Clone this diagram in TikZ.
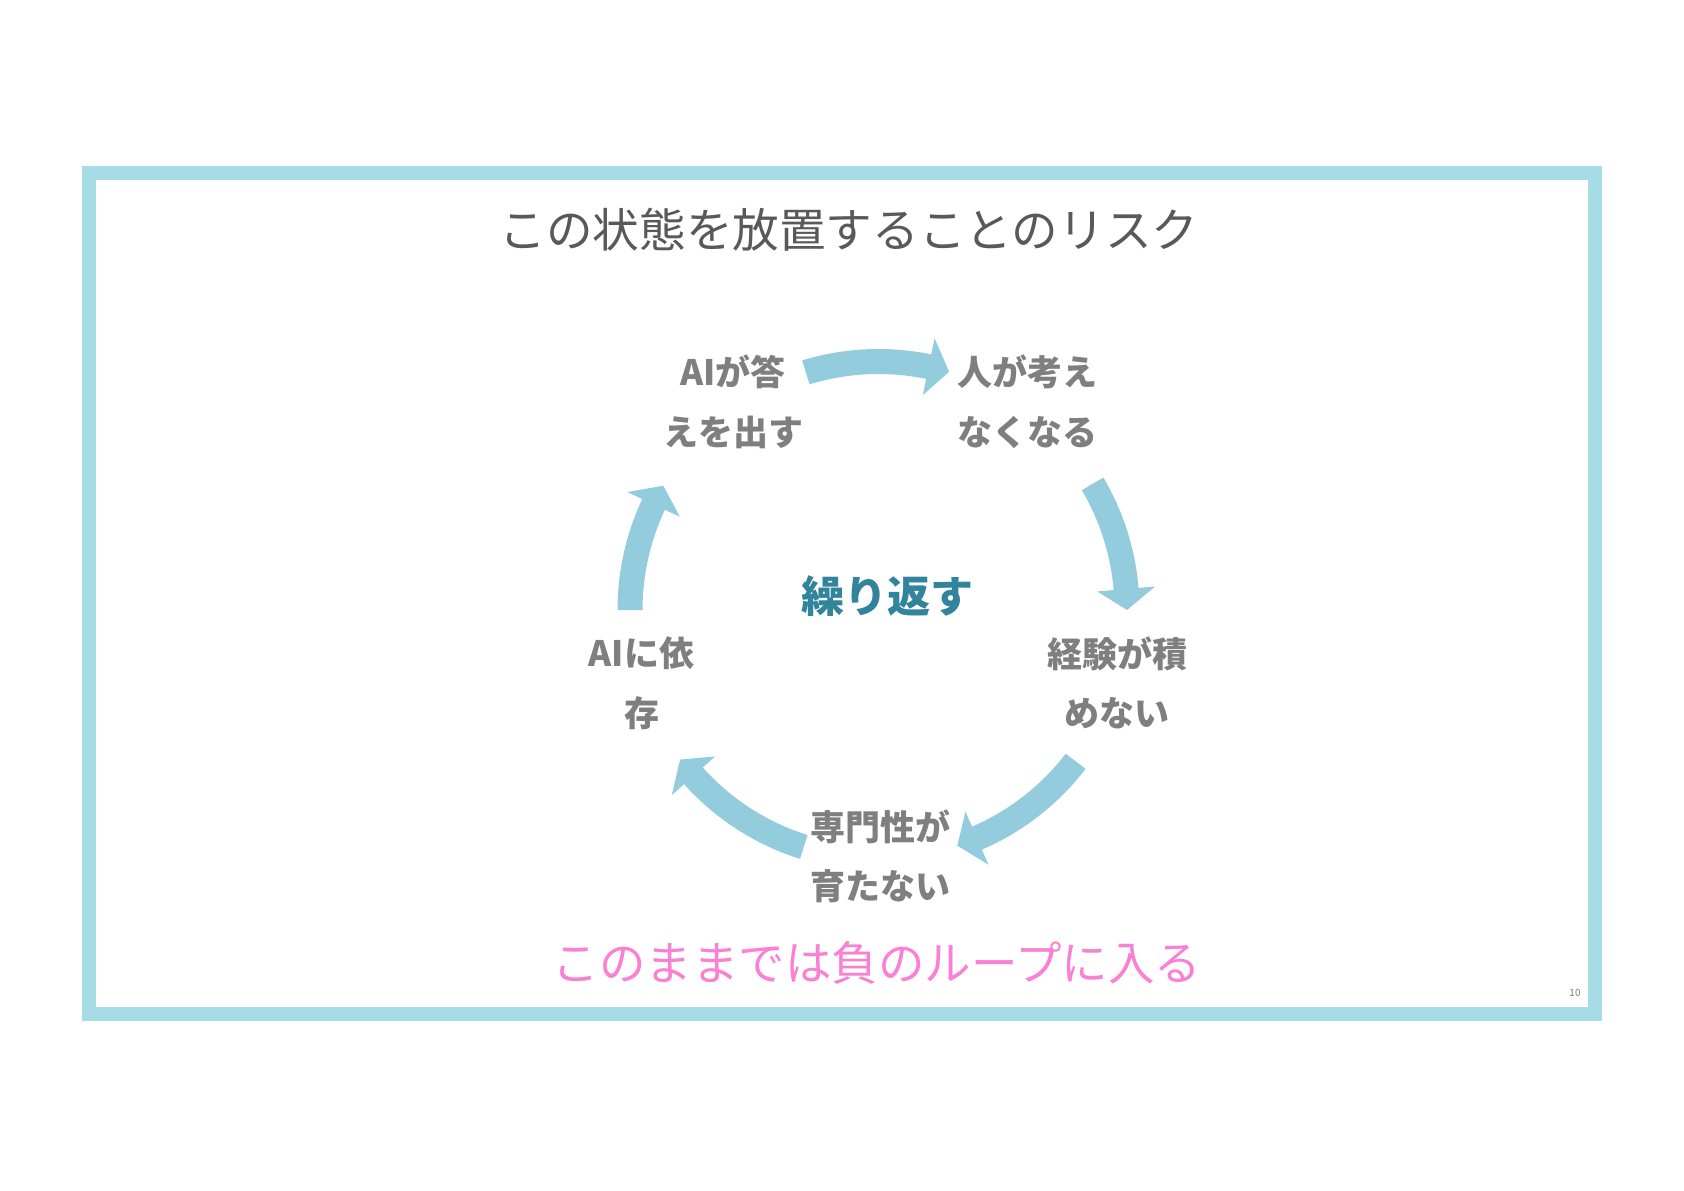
\documentclass[tikz,border=0pt]{standalone}
\usepackage{fontspec}
\newfontfamily\jp{Noto Sans CJK JP}
\definecolor{bordercol}{HTML}{A5DCE6}
\definecolor{arrowcol}{HTML}{93CDDD}
\definecolor{lblgray}{HTML}{7F7F7F}
\definecolor{titlegray}{HTML}{595959}
\definecolor{teal}{HTML}{31849B}
\definecolor{pinktxt}{HTML}{FA80D4}
\newcommand{\cycarrow}[2]{%
  \pgfmathsetmacro{\hb}{#2+4.85}%
  \fill[arrowfill] (#1:261) arc[start angle=#1, end angle=\hb, radius=261]
    -- (\hb:277.5) -- (#2:248.5) -- (\hb:219.5) -- (\hb:236)
    arc[start angle=\hb, end angle=#1, radius=236] -- cycle;}
\begin{document}
\begin{tikzpicture}[x=0.5pt,y=0.5pt,
  lbl/.style={font=\jp\bfseries\fontsize{17.5pt}{29.75pt}\selectfont, text=lblgray, align=center, inner sep=0pt},
  arrowfill/.style={fill=arrowcol}]
\useasboundingbox (0,0) rectangle (1684,1190);
\fill[white] (0,0) rectangle (1684,1190);
\draw[bordercol, line width=7pt] (89,176) rectangle (1595,1017);
\node[font=\jp\fontsize{23.3pt}{28pt}\selectfont, text=titlegray, inner sep=0pt] (title) at (849,960) {この状態を放置することのリスク};
\coordinate (C) at (878.5,580);
\begin{scope}[shift={(C)}]
\cycarrow{107}{73.5}
\cycarrow{30.5}{0}
\cycarrow{-37.5}{-71.5}
\cycarrow{-107.5}{-143}
\cycarrow{180}{150}
\end{scope}
\node[lbl] (ans) at (733,788) {AIが答\\えを出す};
\node[lbl] (think) at (1027,788) {人が考え\\なくなる};
\node[lbl] (exp) at (1117,507) {経験が積\\めない};
\node[lbl] (spec) at (880,333.5) {専門性が\\育たない};
\node[lbl] (dep) at (641.5,507) {AIに依\\存};
\node[font=\jp\bfseries\fontsize{21.5pt}{26pt}\selectfont, text=teal, inner sep=0pt] (repeat) at (887,594) {繰り返す};
\node[font=\jp\fontsize{23.25pt}{28pt}\selectfont, text=pinktxt, inner sep=0pt] (loop) at (877,227) {このままでは負のループに入る};
\node[font=\jp\fontsize{5pt}{6pt}\selectfont, text=lblgray, inner sep=0pt] (page) at (1575,197) {10};
\end{tikzpicture}
\end{document}
